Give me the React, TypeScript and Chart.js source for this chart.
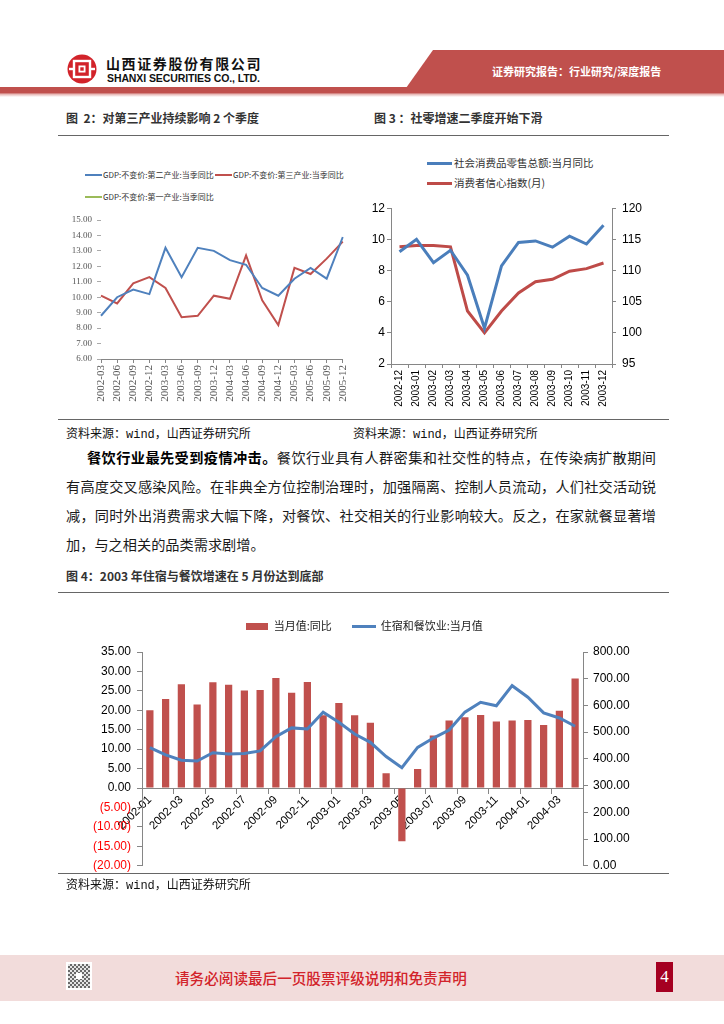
import React, { useEffect, useRef } from "react";
import { Chart, registerables } from "chart.js";

Chart.register(...registerables);

// ---------- Figure 2 data ----------
const gdpQuarters = [
  "2002-03", "2002-06", "2002-09", "2002-12", "2003-03", "2003-06", "2003-09", "2003-12",
  "2004-03", "2004-06", "2004-09", "2004-12", "2005-03", "2005-06", "2005-09", "2005-12",
];
const gdpSecondary = [8.8, 10.0, 10.5, 10.2, 13.2, 11.3, 13.2, 13.0, 12.4, 12.1, 10.6, 10.1, 11.2, 11.9, 11.2, 13.9];
const gdpTertiary = [10.1, 9.6, 10.9, 11.3, 10.6, 8.7, 8.8, 10.1, 9.9, 12.7, 9.8, 8.2, 11.9, 11.5, 12.5, 13.6];
const gdpPrimary: (number | null)[] = [];
const gdpYTicks = [6, 15, 1];

// ---------- Figure 3 data ----------
const retailMonths = [
  "2002-12", "2003-01", "2003-02", "2003-03", "2003-04", "2003-05", "2003-06",
  "2003-07", "2003-08", "2003-09", "2003-10", "2003-11", "2003-12",
];
const retailYoY = [9.2, 10.0, 8.5, 9.3, 7.7, 4.3, 8.3, 9.8, 9.9, 9.5, 10.2, 9.7, 10.9];
const consumerConfidence = [113.8, 114.0, 114.0, 113.8, 103.5, 100.0, 103.5, 106.4, 108.2, 108.6, 109.9, 110.3, 111.2];

// ---------- Figure 4 data ----------
const cateringMonths = [
  "2002-01", "2002-02", "2002-03", "2002-04", "2002-05", "2002-06", "2002-07", "2002-08",
  "2002-09", "2002-10", "2002-11", "2002-12", "2003-01", "2003-02", "2003-03", "2003-04",
  "2003-05", "2003-06", "2003-07", "2003-08", "2003-09", "2003-10", "2003-11", "2003-12",
  "2004-01", "2004-02", "2004-03", "2004-04",
];
const cateringYoY = [
  20.0, 22.9, 26.7, 21.5, 27.2, 26.6, 25.1, 25.2, 28.3, 24.5, 27.3, 18.7, 21.9, 18.7,
  16.8, 3.8, -13.7, 4.9, 13.5, 17.4, 18.2, 18.8, 17.1, 17.4, 17.5, 16.2, 19.9, 28.2,
];
const cateringValue = [
  442, 415, 395, 392, 423, 418, 420, 430, 483, 516, 512, 575, 537, 493,
  462, 409, 367, 443, 478, 508, 575, 612, 599, 674, 631, 572, 553, 522,
];

const SANS = '"Liberation Sans", "Noto Sans CJK SC", sans-serif';
const CJK = '"Noto Sans CJK SC", sans-serif';
const AXIS = "#868686";

function ChartBox(props: { left: number; top: number; width: number; height: number; make: () => any }) {
  const ref = useRef<HTMLCanvasElement>(null);
  useEffect(() => {
    const chart = new Chart(ref.current as HTMLCanvasElement, props.make());
    return () => chart.destroy();
  }, []);
  return (
    <div style={{ position: "absolute", left: props.left, top: props.top, width: props.width, height: props.height }}>
      <canvas ref={ref} width={props.width} height={props.height} style={{ display: "block", width: props.width, height: props.height }} />
    </div>
  );
}

function makeFig2() {
  return {
    type: "line",
    data: {
      labels: gdpQuarters,
      datasets: [
        { label: "GDP:不变价:第二产业:当季同比", data: gdpSecondary, borderColor: "#4F81BD", backgroundColor: "#4F81BD", borderWidth: 2, pointRadius: 0, tension: 0 },
        { label: "GDP:不变价:第三产业:当季同比", data: gdpTertiary, borderColor: "#C0504D", backgroundColor: "#C0504D", borderWidth: 2, pointRadius: 0, tension: 0 },
        { label: "GDP:不变价:第一产业:当季同比", data: gdpPrimary, borderColor: "#9BBB59", backgroundColor: "#9BBB59", borderWidth: 2, pointRadius: 0 },
      ],
    },
    options: {
      animation: false,
      responsive: false,
      layout: { padding: { top: 15, right: 11, left: 0, bottom: 0 } },
      plugins: { legend: { display: false }, tooltip: { enabled: false } },
      scales: {
        x: {
          offset: false,
          grid: { drawOnChartArea: false, tickLength: 4, color: AXIS },
          border: { color: AXIS },
          ticks: { autoSkip: false, maxRotation: 90, minRotation: 90, padding: 2, color: "#555", font: { family: '"Liberation Serif", serif', size: 11 } },
          afterFit: (s: any) => { s.height = 58; },
        },
        y: {
          min: gdpYTicks[0],
          max: gdpYTicks[1],
          ticks: { stepSize: gdpYTicks[2], padding: 5, color: "#555", font: { family: '"Liberation Serif", serif', size: 9 }, callback: (v: any) => Number(v).toFixed(2) },
          grid: { drawOnChartArea: false, tickLength: 4, color: "#aaa" },
          border: { display: false },
          afterFit: (s: any) => { s.width = 41; },
        },
      },
    },
  };
}

function makeFig3() {
  return {
    type: "line",
    data: {
      labels: retailMonths,
      datasets: [
        { label: "社会消费品零售总额:当月同比", data: retailYoY, yAxisID: "y", borderColor: "#4A7EBB", backgroundColor: "#4A7EBB", borderWidth: 3, pointRadius: 0, tension: 0 },
        { label: "消费者信心指数(月)", data: consumerConfidence, yAxisID: "y1", borderColor: "#BE4B48", backgroundColor: "#BE4B48", borderWidth: 3, pointRadius: 0, tension: 0 },
      ],
    },
    options: {
      animation: false,
      responsive: false,
      layout: { padding: { top: 9, right: 0, left: 0, bottom: 0 } },
      plugins: { legend: { display: false }, tooltip: { enabled: false } },
      scales: {
        x: {
          offset: true,
          grid: { offset: true, drawOnChartArea: false, tickLength: 4, color: AXIS },
          border: { color: AXIS },
          ticks: { autoSkip: false, maxRotation: 90, minRotation: 90, padding: 2, color: "#000", font: { family: SANS, size: 10 } },
          afterFit: (s: any) => { s.height = 51; },
        },
        y: {
          position: "left",
          min: 2,
          max: 12,
          ticks: { stepSize: 1, padding: 2, color: "#000", font: { family: SANS, size: 12 } },
          grid: { drawOnChartArea: false, tickLength: 4, color: AXIS },
          border: { color: AXIS },
          afterFit: (s: any) => { s.width = 31; },
        },
        y1: {
          position: "right",
          min: 95,
          max: 120,
          ticks: { stepSize: 5, padding: 6, color: "#000", font: { family: SANS, size: 12 } },
          grid: { drawOnChartArea: false, tickLength: 4, color: AXIS },
          border: { color: AXIS },
          afterFit: (s: any) => { s.width = 38; },
        },
      },
    },
  };
}

function makeIcon(w: number, h: number, color: string) {
  const c = document.createElement("canvas");
  c.width = w;
  c.height = h;
  const ctx = c.getContext("2d") as CanvasRenderingContext2D;
  ctx.fillStyle = color;
  ctx.fillRect(0, 0, w, h);
  return c;
}

function makeFig4() {
  const barIcon = makeIcon(22, 7, "#C0504D");
  const lineIcon = makeIcon(24, 3, "#4F81BD");
  const fmt = (v: number) => (v < 0 ? "(" + Math.abs(v).toFixed(2) + ")" : v.toFixed(2));
  return {
    type: "bar",
    data: {
      labels: cateringMonths,
      datasets: [
        { type: "bar", label: "当月值:同比", data: cateringYoY, yAxisID: "y", backgroundColor: "#C0504D", borderWidth: 0, barPercentage: 0.46, categoryPercentage: 1, order: 1 },
        { type: "line", label: "住宿和餐饮业:当月值", data: cateringValue, yAxisID: "y1", borderColor: "#4F81BD", backgroundColor: "#4F81BD", borderWidth: 3, pointRadius: 0, tension: 0, order: 0 },
      ],
    },
    options: {
      animation: false,
      responsive: false,
      layout: { padding: { top: 0, right: 0, left: 0, bottom: 9 } },
      plugins: {
        tooltip: { enabled: false },
        title: { display: true, text: "", weight: 500, padding: { top: 0, bottom: 9.5 }, font: { size: 1, lineHeight: 1 } },
        legend: {
          position: "top",
          align: "center",
          labels: {
            usePointStyle: true,
            pointStyleWidth: 23,
            boxHeight: 11,
            padding: 20.5,
            color: "#222",
            font: { family: CJK, size: 11 },
            generateLabels: (chart: any) => {
              const items = Chart.defaults.plugins.legend.labels.generateLabels(chart);
              items.forEach((it: any) => { it.pointStyle = it.datasetIndex === 0 ? barIcon : lineIcon; });
              return items;
            },
            sort: (a: any, b: any) => a.datasetIndex - b.datasetIndex,
          },
        },
      },
      scales: {
        x: {
          position: { y: 0 },
          offset: true,
          grid: {
            offset: true,
            drawOnChartArea: false,
            tickLength: 5,
            color: (ctx: any) => (ctx.index % 2 === 0 ? AXIS : "rgba(0,0,0,0)"),
          },
          border: { color: AXIS },
          ticks: {
            autoSkip: false,
            maxRotation: 45,
            minRotation: 45,
            padding: 0,
            color: "#000",
            font: { family: SANS, size: 11.5 },
            callback: (_v: any, i: number) => (i % 2 === 0 ? cateringMonths[i] : ""),
          },
        },
        y: {
          position: "left",
          min: -20,
          max: 35,
          ticks: {
            stepSize: 5,
            padding: 6,
            font: { family: SANS, size: 12 },
            color: (ctx: any) => (ctx.tick && ctx.tick.value < 0 ? "#FF0000" : "#000"),
            callback: (v: any) => fmt(Number(v)),
          },
          grid: { drawOnChartArea: false, tickLength: 5, color: AXIS },
          border: { color: AXIS },
          afterFit: (s: any) => { s.width = 82; },
        },
        y1: {
          position: "right",
          min: 0,
          max: 800,
          ticks: { stepSize: 100, padding: 5, color: "#000", font: { family: SANS, size: 12 }, callback: (v: any) => Number(v).toFixed(2) },
          grid: { drawOnChartArea: false, tickLength: 5, color: AXIS },
          border: { color: AXIS },
          afterFit: (s: any) => { s.width = 85; },
        },
      },
    },
  };
}

const abs = (l: number, t: number, extra: React.CSSProperties = {}): React.CSSProperties => ({ position: "absolute", left: l, top: t, ...extra });

function LegendLine(p: { x: number; y: number; w: number; h: number; color: string; text: string; size: number; tx: number }) {
  return (
    <>
      <div style={abs(p.x, p.y - p.h / 2, { width: p.w, height: p.h, background: p.color })} />
      <div style={abs(p.tx, p.y - p.size * 0.75, { fontSize: p.size, lineHeight: p.size * 1.5 + "px", whiteSpace: "nowrap", color: "#333" })}>{p.text}</div>
    </>
  );
}

const paraStyle: React.CSSProperties = {
  position: "absolute",
  fontSize: 14.2,
  lineHeight: "20px",
  color: "#1a1a1a",
  whiteSpace: "nowrap",
};

export default function App() {
  return (
    <div style={{ position: "absolute", left: 0, top: 0, width: 724, height: 1024, background: "#fff", overflow: "hidden", fontFamily: CJK }}>
      {/* header */}
      <svg style={abs(67, 54)} width={30} height={30} viewBox="0 0 30 30">
        <circle cx={15} cy={15} r={14.5} fill="#D2232A" />
        <rect x={7} y={7} width={16} height={16} fill="none" stroke="#fff" strokeWidth={2.4} />
        <rect x={11.5} y={11.5} width={7} height={7} fill="#fff" />
        <rect x={13.3} y={13.3} width={3.4} height={3.4} fill="#D2232A" />
        <rect x={2} y={13.8} width={5} height={2.4} fill="#fff" />
        <rect x={23} y={13.8} width={5} height={2.4} fill="#fff" />
      </svg>
      <div style={abs(106, 55, { fontSize: 14, lineHeight: "16px", fontWeight: 700, letterSpacing: 1.6, color: "#111", whiteSpace: "nowrap" })}>山西证券股份有限公司</div>
      <div style={abs(107, 72, { fontSize: 10.5, lineHeight: "12px", fontWeight: 700, color: "#111", whiteSpace: "nowrap", fontFamily: '"Liberation Sans", sans-serif', letterSpacing: -0.1 })}>SHANXI SECURITIES CO., LTD.</div>
      <div style={abs(0, 50, { width: 724, height: 38, background: "#C0504D", clipPath: "polygon(433px 0, 724px 0, 724px 38px, 406px 38px)" })} />
      <div style={abs(492, 63, { fontSize: 11, lineHeight: "16px", fontWeight: 700, color: "#fff", whiteSpace: "nowrap" })}>证券研究报告：行业研究/深度报告</div>
      <div style={abs(0, 87, { width: 724, height: 10, background: "linear-gradient(#C0504D 0, #C0504D 55%, #E9BDBB 75%, #fff 100%)" })} />

      {/* figure 2/3 titles */}
      <div style={abs(66, 110, { fontSize: 12, lineHeight: "16px", fontWeight: 700, color: "#333", whiteSpace: "pre" })}>图  2：对第三产业持续影响 2 个季度</div>
      <div style={abs(374, 110, { fontSize: 12, lineHeight: "16px", fontWeight: 700, color: "#333", whiteSpace: "pre" })}>图 3 ：社零增速二季度开始下滑</div>
      <div style={abs(58, 135, { width: 611, height: 1, background: "#666" })} />

      {/* figure 2 legend */}
      <LegendLine x={85} y={175} w={17} h={2} color="#4F81BD" text="GDP:不变价:第二产业:当季同比" size={8} tx={103} />
      <LegendLine x={215} y={175} w={17} h={2} color="#C0504D" text="GDP:不变价:第三产业:当季同比" size={8} tx={233} />
      <LegendLine x={85} y={197} w={17} h={2} color="#9BBB59" text="GDP:不变价:第一产业:当季同比" size={8} tx={103} />
      <ChartBox left={60} top={205} width={298} height={212} make={makeFig2} />

      {/* figure 3 legend */}
      <LegendLine x={427} y={163} w={25} h={3} color="#4A7EBB" text="社会消费品零售总额:当月同比" size={10.5} tx={454} />
      <LegendLine x={427} y={183} w={25} h={3} color="#BE4B48" text="消费者信心指数(月)" size={10.5} tx={454} />
      <ChartBox left={360} top={195} width={290} height={220} make={makeFig3} />

      <div style={abs(58, 419, { width: 611, height: 1, background: "#666" })} />
      <div style={abs(66, 425, { fontSize: 12, lineHeight: "16px", color: "#111", whiteSpace: "nowrap" })}>资料来源：<span style={{ fontFamily: '"Liberation Mono", monospace' }}>wind</span>，山西证券研究所</div>
      <div style={abs(353, 425, { fontSize: 12, lineHeight: "16px", color: "#111", whiteSpace: "nowrap" })}>资料来源：<span style={{ fontFamily: '"Liberation Mono", monospace' }}>wind</span>，山西证券研究所</div>

      {/* paragraph */}
      <div style={{ ...paraStyle, left: 87, top: 447, width: 569, textAlign: "justify", textAlignLast: "justify" }}>
        <b style={{ color: "#000" }}>餐饮行业最先受到疫情冲击。</b>餐饮行业具有人群密集和社交性的特点，在传染病扩散期间
      </div>
      <div style={{ ...paraStyle, left: 66, top: 476, width: 590, textAlign: "justify", textAlignLast: "justify" }}>
        有高度交叉感染风险。在非典全方位控制治理时，加强隔离、控制人员流动，人们社交活动锐
      </div>
      <div style={{ ...paraStyle, left: 66, top: 505, width: 590, textAlign: "justify", textAlignLast: "justify" }}>
        减，同时外出消费需求大幅下降，对餐饮、社交相关的行业影响较大。反之，在家就餐显著增
      </div>
      <div style={{ ...paraStyle, left: 66, top: 534 }}>加，与之相关的品类需求剧增。</div>

      {/* figure 4 */}
      <div style={abs(66, 568, { fontSize: 12, lineHeight: "16px", fontWeight: 700, color: "#333", whiteSpace: "nowrap" })}>图 4：2003 年住宿与餐饮增速在 5 月份达到底部</div>
      <div style={abs(58, 592, { width: 611, height: 1, background: "#666" })} />
      <ChartBox left={60} top={600} width={608} height={279} make={makeFig4} />
      <div style={abs(58, 873, { width: 611, height: 1, background: "#666" })} />
      <div style={abs(66, 876, { fontSize: 12, lineHeight: "16px", color: "#111", whiteSpace: "nowrap" })}>资料来源：<span style={{ fontFamily: '"Liberation Mono", monospace' }}>wind</span>，山西证券研究所</div>

      {/* footer */}
      <div style={abs(0, 955, { width: 724, height: 46, background: "#F2DCDB" })} />
      <div style={abs(66, 962, { width: 26, height: 28, background: "#fff" })}>
        <div style={{ position: "absolute", left: 2, top: 2, width: 22, height: 24, background: "repeating-conic-gradient(#444 0 25%, #ddd 0 50%) 0 0 / 4px 4px", opacity: 0.8 }} />
        <div style={{ position: "absolute", left: 10, top: 11, width: 6, height: 6, background: "#fff" }} />
      </div>
      <div style={abs(175, 969, { fontSize: 14.6, lineHeight: "18px", fontWeight: 500, color: "#D2232A", whiteSpace: "nowrap" })}>请务必阅读最后一页股票评级说明和免责声明</div>
      <div style={abs(656, 962, { width: 17, height: 30, background: "#A50021", color: "#fff", fontFamily: '"Liberation Serif", serif', fontSize: 17, lineHeight: "30px", textAlign: "center" })}>4</div>
    </div>
  );
}
